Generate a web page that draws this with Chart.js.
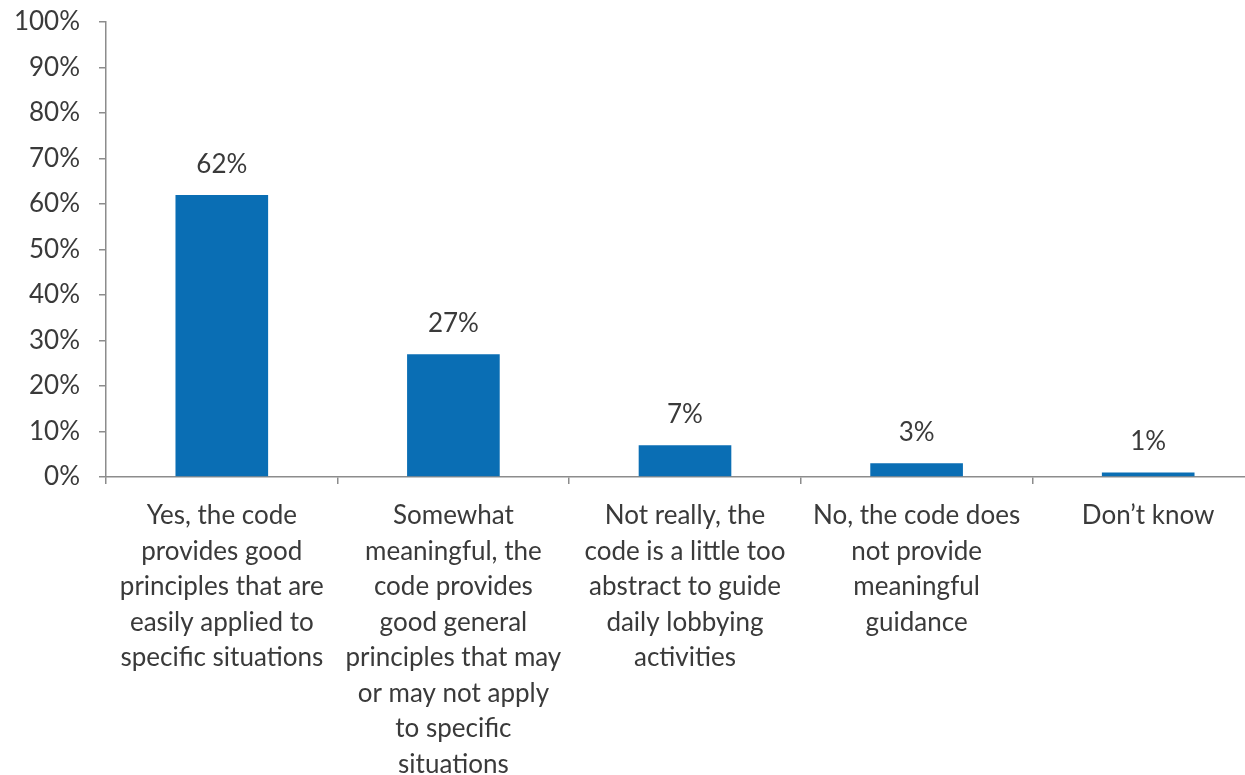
<!DOCTYPE html>
<html>
<head>
<meta charset="utf-8">
<script src="https://cdn.jsdelivr.net/npm/chart.js@4"></script>
<style>
  html, body { margin: 0; padding: 0; background: #fff; overflow: hidden; }
  #wrap { width: 1264px; height: 775px; }
</style>
</head>
<body>
<div id="wrap"><canvas id="usefulChart" width="1264" height="775"></canvas></div>
<script>
const categories = [
    ['Yes, the code', 'provides good', 'principles that are', 'easily applied to', 'specific situations'],
    ['Somewhat', 'meaningful, the', 'code provides', 'good general', 'principles that may', 'or may not apply', 'to specific', 'situations'],
    ['Not really, the', 'code is a little too', 'abstract to guide', 'daily lobbying', 'activities'],
    ['No, the code does', 'not provide', 'meaningful', 'guidance'],
    ['Don\u2019t know']
];
const shares = [62, 27, 7, 3, 1];
const yTicks = [0, 10, 20, 30, 40, 50, 60, 70, 80, 90, 100];

const textColor = '#3a3a3a';
const axisColor = '#8c8c8c';
const fontFamily = 'Lato, "Open Sans", sans-serif';
const fontSize = 26;

// puts the percentage above each bar
const valueLabels = {
    id: 'valueLabels',
    afterDatasetsDraw(chart) {
        const ctx = chart.ctx;
        const meta = chart.getDatasetMeta(0);
        ctx.save();
        ctx.font = fontSize + 'px ' + fontFamily;
        ctx.fillStyle = textColor;
        ctx.textAlign = 'center';
        ctx.textBaseline = 'alphabetic';
        meta.data.forEach((bar, i) => {
            ctx.fillText(shares[i] + '%', bar.x, bar.y - 22);
        });
        ctx.restore();
    }
};

const canvas = document.getElementById('usefulChart');
new Chart(canvas, {
    type: 'bar',
    data: {
        labels: categories,
        datasets: [{
            data: shares,
            backgroundColor: '#0A6EB4',
            categoryPercentage: 1,
            barPercentage: 0.4
        }]
    },
    plugins: [valueLabels],
    options: {
        responsive: false,
        animation: false,
        layout: { padding: { top: 22, left: 0, right: 0, bottom: 0 } },
        plugins: {
            legend: { display: false },
            tooltip: { enabled: false }
        },
        scales: {
            x: {
                offset: true,
                border: { display: true, color: axisColor, width: 1.5 },
                grid: {
                    offset: true,
                    drawOnChartArea: false,
                    drawTicks: true,
                    tickLength: 7,
                    color: axisColor,
                    lineWidth: 1.5
                },
                ticks: {
                    color: textColor,
                    font: { family: fontFamily, size: fontSize, lineHeight: '35.5px' },
                    padding: 14,
                    maxRotation: 0,
                    minRotation: 0,
                    autoSkip: false
                },
                afterFit(scale) { scale.height = 298; }
            },
            y: {
                min: 0,
                max: 100,
                afterBuildTicks(scale) {
                    scale.ticks = yTicks.map(v => ({ value: v }));
                },
                border: { display: true, color: axisColor, width: 1.5 },
                grid: {
                    drawOnChartArea: false,
                    drawTicks: true,
                    tickLength: 7,
                    color: axisColor,
                    lineWidth: 1.5
                },
                ticks: {
                    color: textColor,
                    font: { family: fontFamily, size: fontSize },
                    padding: 19,
                    callback: v => v + '%'
                },
                afterFit(scale) {
                    scale.width = 106;
                    // top edge is fixed by layout padding instead
                    scale.paddingTop = 0;
                }
            }
        }
    }
});
</script>
</body>
</html>
